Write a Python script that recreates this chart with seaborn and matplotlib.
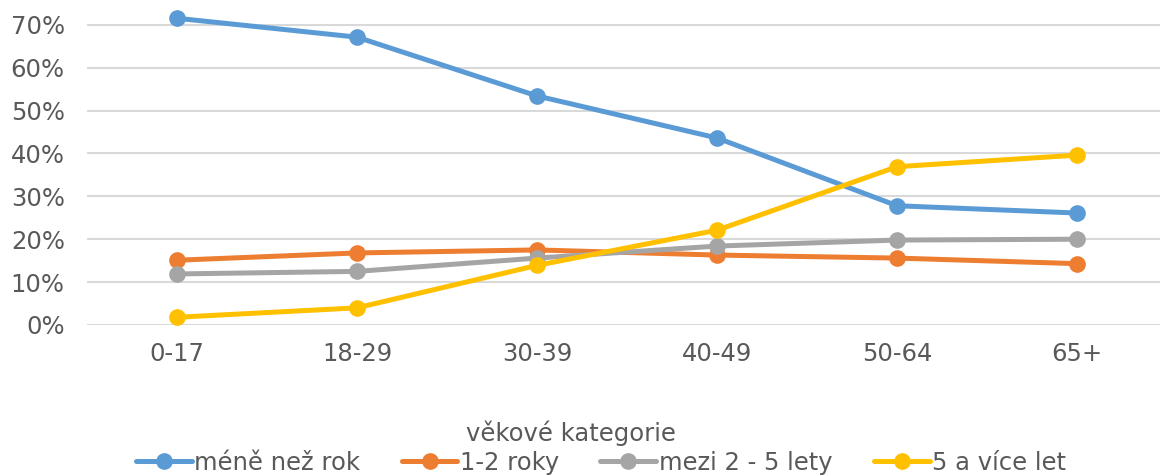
import pandas as pd
import matplotlib
matplotlib.use('Agg')
import matplotlib.pyplot as plt
import seaborn as sns
from matplotlib.ticker import PercentFormatter

# Data
categories = ['0-17', '18-29', '30-39', '40-49', '50-64', '65+']
series_names = ['méně než rok', '1-2 roky', 'mezi 2 - 5 lety', '5 a více let']
mene_nez_rok = [0.715, 0.671, 0.534, 0.436, 0.278, 0.261]
jeden_dva_roky = [0.151, 0.168, 0.175, 0.163, 0.156, 0.143]
dva_pet_let = [0.119, 0.125, 0.156, 0.184, 0.198, 0.200]
pet_a_vice = [0.018, 0.040, 0.139, 0.221, 0.369, 0.396]
colors = ['#5B9BD5', '#ED7D31', '#A5A5A5', '#FFC000']

rows = []
for name, vals in zip(series_names, [mene_nez_rok, jeden_dva_roky, dva_pet_let, pet_a_vice]):
    for cat, v in zip(categories, vals):
        rows.append({'kategorie': cat, 'podil': v, 'serie': name})
df = pd.DataFrame(rows)

sns.set_style('white')
plt.rcParams['font.family'] = ['DejaVu Sans']
text_col = '#595959'

fig = plt.figure(figsize=(11.6, 4.76), dpi=100)
ax = fig.add_axes([87 / 1160, 1 - 325 / 476, 1 - 87 / 1160, 325 / 476])

sns.lineplot(data=df, x='kategorie', y='podil', hue='serie', hue_order=series_names,
             palette=colors, marker='o', markersize=12, markeredgewidth=0,
             linewidth=3.6, sort=False, ax=ax, legend=True, clip_on=False)

ax.set_xlim(-0.5, 5.461)
ax.set_ylim(0, 0.7576)
ax.set_yticks([0, 0.1, 0.2, 0.3, 0.4, 0.5, 0.6, 0.7])
ax.yaxis.set_major_formatter(PercentFormatter(1.0, decimals=0))
ax.grid(axis='y', color='#D9D9D9', linewidth=1.5)
ax.set_axisbelow(True)
for s in ax.spines.values():
    s.set_visible(False)
ax.tick_params(axis='both', length=0, labelsize=17.5, colors=text_col)
ax.tick_params(axis='x', pad=12)
ax.tick_params(axis='y', pad=16)
ax.set_xlabel('')
ax.set_ylabel('')

handles, labels = ax.get_legend_handles_labels()
ax.get_legend().remove()
fig.text(571 / 1160, 1 - 433 / 476, 'věkové kategorie', ha='center', va='center',
         fontsize=17.5, color=text_col)
fig.legend(handles, labels, loc='center', bbox_to_anchor=(601 / 1160, 1 - 463 / 476),
           ncol=4, frameon=False, fontsize=17.5, handlelength=2.3, handletextpad=0.1,
           columnspacing=1.7, labelcolor=text_col, borderpad=0)

fig.savefig('out.png', dpi=100)
